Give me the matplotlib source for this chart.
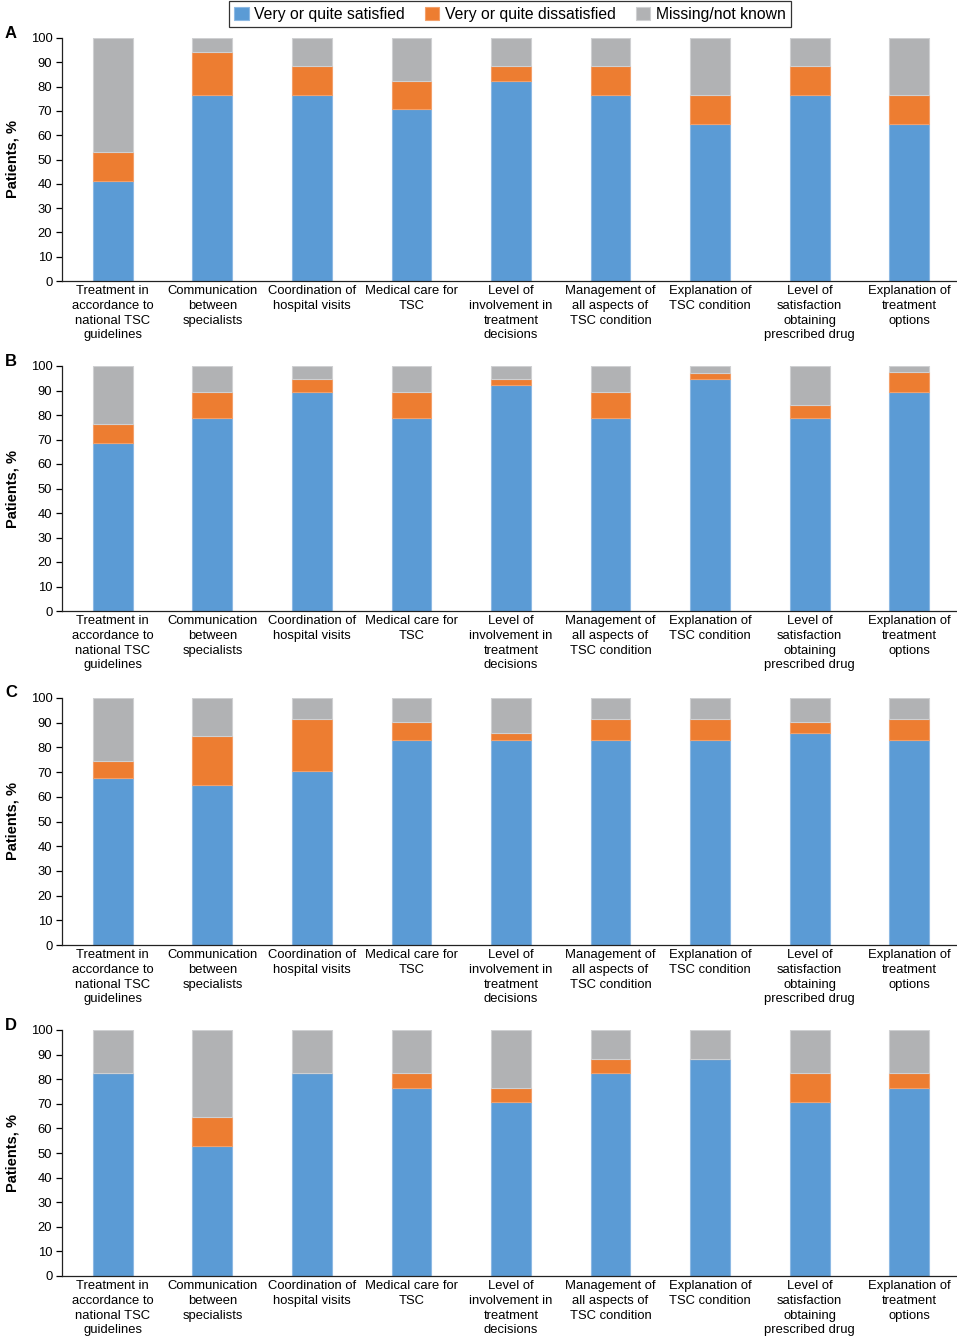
import matplotlib
matplotlib.use("Agg")
import matplotlib.pyplot as plt
import numpy as np

plt.rcParams['font.family'] = ['Liberation Sans', 'DejaVu Sans']

categories = [
    "Treatment in\naccordance to\nnational TSC\nguidelines",
    "Communication\nbetween\nspecialists",
    "Coordination of\nhospital visits",
    "Medical care for\nTSC",
    "Level of\ninvolvement in\ntreatment\ndecisions",
    "Management of\nall aspects of\nTSC condition",
    "Explanation of\nTSC condition",
    "Level of\nsatisfaction\nobtaining\nprescribed drug",
    "Explanation of\ntreatment\noptions",
]
series_names = ["Very or quite satisfied", "Very or quite dissatisfied", "Missing/not known"]
panel_labels = ["A", "B", "C", "D"]

sat_A = [41.2, 76.5, 76.5, 70.6, 82.4, 76.5, 64.7, 76.5, 64.7]
dis_A = [11.8, 17.6, 11.8, 11.8, 5.9, 11.8, 11.8, 11.8, 11.8]
mis_A = [47.1, 5.9, 11.8, 17.6, 11.8, 11.8, 23.5, 11.8, 23.5]

sat_B = [68.4, 78.9, 89.5, 78.9, 92.1, 78.9, 94.7, 78.9, 89.5]
dis_B = [7.9, 10.5, 5.3, 10.5, 2.6, 10.5, 2.6, 5.3, 7.9]
mis_B = [23.7, 10.5, 5.3, 10.5, 5.3, 10.5, 2.6, 15.8, 2.6]

sat_C = [67.6, 64.8, 70.4, 83.1, 83.1, 83.1, 83.1, 85.9, 83.1]
dis_C = [7.0, 19.7, 21.1, 7.0, 2.8, 8.5, 8.5, 4.2, 8.5]
mis_C = [25.4, 15.5, 8.5, 9.9, 14.1, 8.5, 8.5, 9.9, 8.5]

sat_D = [82.4, 52.9, 82.4, 76.5, 70.6, 82.4, 88.2, 70.6, 76.5]
dis_D = [0.0, 11.8, 0.0, 5.9, 5.9, 5.9, 0.0, 11.8, 5.9]
mis_D = [17.6, 35.3, 17.6, 17.6, 23.5, 11.8, 11.8, 17.6, 17.6]

panels = [(sat_A, dis_A, mis_A), (sat_B, dis_B, mis_B),
          (sat_C, dis_C, mis_C), (sat_D, dis_D, mis_D)]

colors = ["#5B9BD5", "#ED7D31", "#B1B2B4"]
edges = ["#8DB9E4", "#F3A06A", "#CFD0D2"]

W, H = 957, 1339
fig = plt.figure(figsize=(W / 100, H / 100), dpi=100)

# pixel positions of y=100 and y=0 for each panel
ypix = [(38, 281), (366, 611), (698, 945), (1030, 1276)]
left_px = 62
x = np.arange(len(categories))
handles = None
for (sat, dis, mis), (y100, y0), lab in zip(panels, ypix, panel_labels):
    ax = fig.add_axes([left_px / W, 1 - y0 / H, (W - left_px) / W, (y0 - y100) / H])
    sat = np.array(sat); dis = np.array(dis); mis = np.array(mis)
    b1 = ax.bar(x, sat, width=0.4, color=colors[0], edgecolor=edges[0], linewidth=0.8)
    b2 = ax.bar(x, dis, bottom=sat, width=0.4, color=colors[1], edgecolor=edges[1], linewidth=0.8)
    b3 = ax.bar(x, mis, bottom=sat + dis, width=0.4, color=colors[2], edgecolor=edges[2], linewidth=0.8)
    handles = [b1, b2, b3]
    ax.set_xlim(-0.51, 8.48)
    ax.set_ylim(0, 100)
    ax.set_yticks(np.arange(0, 101, 10))
    ax.set_xticks(x)
    ax.set_xticklabels(categories, fontsize=9.4, linespacing=1.3)
    ax.tick_params(axis='x', length=0, pad=3)
    ax.tick_params(axis='y', length=4, width=0.9, labelsize=9.4, pad=3, direction='out')
    for s in ['top', 'right']:
        ax.spines[s].set_visible(False)
    for s in ['left', 'bottom']:
        ax.spines[s].set_linewidth(0.9)
        ax.spines[s].set_color('#222222')
    ax.set_ylabel("Patients, %", fontsize=10.5, fontweight='bold', labelpad=8)
    fig.text(5 / W, 1 - (y100 - 5) / H, lab, fontsize=12, fontweight='bold',
             ha='left', va='center')

leg = fig.legend(handles, series_names, loc='center', bbox_to_anchor=(510 / W, 1 - 14 / H),
                 ncol=3, fontsize=11.3, frameon=True, fancybox=False, edgecolor='black',
                 handlelength=0.9, handleheight=0.9, handletextpad=0.35, columnspacing=1.3,
                 borderpad=0.35)
leg.get_frame().set_linewidth(0.9)

fig.savefig("out.png", dpi=100)
